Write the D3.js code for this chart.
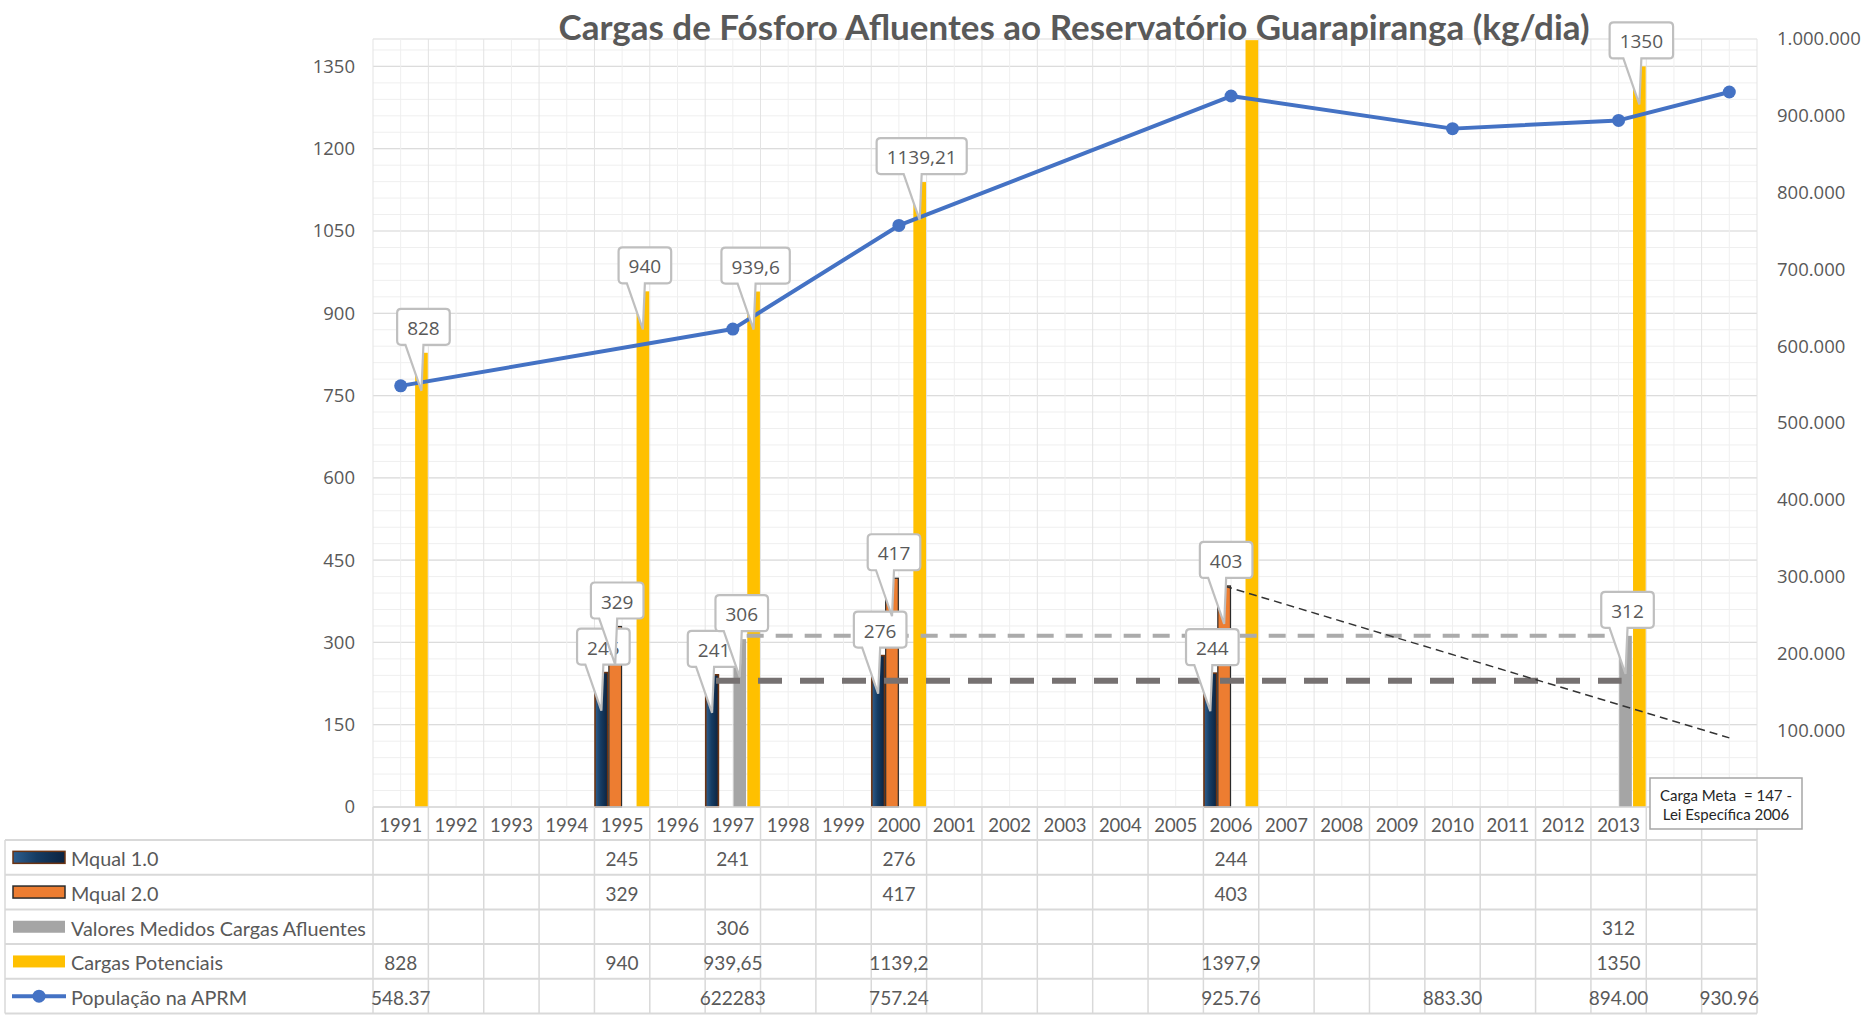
<!DOCTYPE html>
<html>
<head>
<meta charset="utf-8">
<script src="https://cdn.jsdelivr.net/npm/d3@7"></script>
<style>
  body { margin: 0; background: #fff; }
  svg { display: block; }
</style>
</head>
<body>
<svg id="chart" width="1874" height="1016"></svg>
<script>
// ---- data -------------------------------------------------------------
const years = ["1991","1992","1993","1994","1995","1996","1997","1998","1999","2000",
               "2001","2002","2003","2004","2005","2006","2007","2008","2009","2010",
               "2011","2012","2013","",""];

const mqual1     = [null,null,null,null,245,null,241,null,null,276,null,null,null,null,null,244,null,null,null,null,null,null,null,null,null];
const mqual2     = [null,null,null,null,329,null,null,null,null,417,null,null,null,null,null,403,null,null,null,null,null,null,null,null,null];
const medidos    = [null,null,null,null,null,null,306,null,null,null,null,null,null,null,null,null,null,null,null,null,null,null,312,null,null];
const potenciais = [828,null,null,null,940,null,939.65,null,null,1139.21,null,null,null,null,null,1397.9,null,null,null,null,null,null,1350,null,null];
const populacao  = [548370,null,null,null,null,null,622283,null,null,757240,null,null,null,null,null,925760,null,null,null,883300,null,null,894000,null,930960];

// callout texts on the bars
const mqual1Labels     = [null,null,null,null,"245",null,"241",null,null,"276",null,null,null,null,null,"244",null,null,null,null,null,null,null,null,null];
const mqual2Labels     = [null,null,null,null,"329",null,null,null,null,"417",null,null,null,null,null,"403",null,null,null,null,null,null,null,null,null];
const medidosLabels    = [null,null,null,null,null,null,"306",null,null,null,null,null,null,null,null,null,null,null,null,null,null,null,"312",null,null];
const potenciaisLabels = ["828",null,null,null,"940",null,"939,6",null,null,"1139,21",null,null,null,null,null,null,null,null,null,null,null,null,"1350",null,null];

// texts shown in the data table
const mqual1Table     = mqual1.map(v => v == null ? "" : String(v));
const mqual2Table     = mqual2.map(v => v == null ? "" : String(v));
const medidosTable    = medidos.map(v => v == null ? "" : String(v));
const potenciaisTable = ["828","","","","940","","939,65","","","1139,2","","","","","","1397,9","","","","","","","1350","",""];
const populacaoTable  = ["548.37","","","","","","622283","","","757.24","","","","","","925.76","","","","883.30","","","894.00","","930.96"];

const seriesNames = ["Mqual 1.0","Mqual 2.0","Valores Medidos Cargas Afluentes","Cargas Potenciais","População na APRM"];

// axis ticks
const leftTicks  = [0,150,300,450,600,750,900,1050,1200,1350];
const rightTicks = [100000,200000,300000,400000,500000,600000,700000,800000,900000,1000000];

// reference levels (dashed) and the goal trend
const medidoRef = { value: 312, from: "1997", to: "2013" };
const mqualRef  = { value: 230, from: "1997", to: "2013" };
const trendStart = { year: "2006", value: 403 };
const trendEnd   = { index: 24, value: 126 };

const title = "Cargas de Fósforo Afluentes ao Reservatório Guarapiranga (kg/dia)";
const noteLines = ["Carga Meta\u00a0 = 147 -", "Lei Específica 2006"];

// ---- setup ------------------------------------------------------------
const svg = d3.select("#chart");
const plotL = 373, plotR = 1757, plotB = 807, plotT = 39;
const textGray = "#595959";
const axisFont = "'Open Sans', 'DejaVu Sans', sans-serif";
const tableFont = "Lato, 'Open Sans', sans-serif";

const ptLocale = d3.formatLocale({ decimal: ",", thousands: ".", grouping: [3], currency: ["R$", ""] });
const fmtThousands = ptLocale.format(",d");

const x = d3.scaleBand().domain(d3.range(years.length)).range([plotL, plotR]).paddingInner(0).paddingOuter(0);
const sub = d3.scaleBand().domain(d3.range(4)).range([0, x.bandwidth()]).padding(0);
const yL = d3.scaleLinear().domain([0, 1400]).range([plotB, plotT]);
const yR = d3.scaleLinear().domain([0, 1000000]).range([plotB, plotT]);

const defs = svg.append("defs");
const grad = defs.append("linearGradient").attr("id", "mq1Fill").attr("x1", 0).attr("x2", 1).attr("y1", 0).attr("y2", 0);
grad.append("stop").attr("offset", 0).attr("stop-color", "#2f5f8f");
grad.append("stop").attr("offset", 0.45).attr("stop-color", "#163c63");
grad.append("stop").attr("offset", 1).attr("stop-color", "#0b2340");

// ---- gridlines ----------------------------------------------------------
const grid = svg.append("g");
const minorVals = d3.range(0, 1401, 30);
grid.selectAll(".hmin").data(minorVals).join("line")
  .attr("x1", plotL).attr("x2", plotR)
  .attr("y1", d => yL(d)).attr("y2", d => yL(d))
  .attr("stroke", "#efefef").attr("stroke-width", 1);
grid.selectAll(".hmaj").data(leftTicks.concat([1400])).join("line")
  .attr("x1", plotL).attr("x2", plotR)
  .attr("y1", d => yL(d)).attr("y2", d => yL(d))
  .attr("stroke", "#dcdcdc").attr("stroke-width", 1.2);
const halfSteps = d3.range(0, years.length * 2 + 1);
grid.selectAll(".v").data(halfSteps).join("line")
  .attr("x1", d => plotL + d * x.bandwidth() / 2).attr("x2", d => plotL + d * x.bandwidth() / 2)
  .attr("y1", plotT).attr("y2", plotB)
  .attr("stroke", d => d % 2 === 0 ? "#e3e3e3" : "#efefef").attr("stroke-width", 1);

// ---- bars ---------------------------------------------------------------
const barSeries = [mqual1, mqual2, medidos, potenciais];
const barFill   = ["url(#mq1Fill)", "#ed7d31", "#a5a5a5", "#ffc000"];
const barStroke = ["#6b3312", "#2b2b2b", "none", "none"];
const barStrokeW = [1.6, 1.2, 0, 0];
const gBars = svg.append("g");
barSeries.forEach((vals, s) => {
  const pts = vals.map((v, i) => ({ v, i })).filter(d => d.v != null);
  gBars.selectAll(null).data(pts).join("rect")
    .attr("x", d => x(d.i) + sub(s) + 0.6)
    .attr("width", sub.bandwidth() - 1.2)
    .attr("y", d => yL(d.v))
    .attr("height", d => yL(0) - yL(d.v))
    .attr("fill", barFill[s])
    .attr("stroke", barStroke[s])
    .attr("stroke-width", barStrokeW[s]);
});

// ---- dashed reference levels -------------------------------------------
const gRef = svg.append("g");
const iOf = y => years.indexOf(y);
gRef.append("line")
  .attr("x1", x(iOf(medidoRef.from)) + sub(3)).attr("x2", x(iOf(medidoRef.to)) + sub(2))
  .attr("y1", yL(medidoRef.value)).attr("y2", yL(medidoRef.value))
  .attr("stroke", "#ababab").attr("stroke-width", 4).attr("stroke-dasharray", "17 12");
gRef.append("line")
  .attr("x1", x(iOf(mqualRef.from)) + sub(1) - 3).attr("x2", x(iOf(mqualRef.to)) + sub(2) + 3)
  .attr("y1", yL(mqualRef.value)).attr("y2", yL(mqualRef.value))
  .attr("stroke", "#767171").attr("stroke-width", 6).attr("stroke-dasharray", "24 18");

// ---- population line ------------------------------------------------------
const popPts = populacao.map((v, i) => ({ v, i })).filter(d => d.v != null);
const lineGen = d3.line().x(d => x(d.i) + x.bandwidth() / 2).y(d => yR(d.v));
svg.append("path").datum(popPts)
  .attr("d", lineGen).attr("fill", "none")
  .attr("stroke", "#4472c4").attr("stroke-width", 4).attr("stroke-linejoin", "round");
svg.append("g").selectAll("circle").data(popPts).join("circle")
  .attr("cx", d => x(d.i) + x.bandwidth() / 2).attr("cy", d => yR(d.v)).attr("r", 6.5)
  .attr("fill", "#4472c4");

// ---- goal trend ----------------------------------------------------------
svg.append("line")
  .attr("x1", x(iOf(trendStart.year)) + sub(1) + sub.bandwidth() / 2)
  .attr("y1", yL(trendStart.value))
  .attr("x2", x(trendEnd.index) + x.bandwidth() / 2)
  .attr("y2", yL(trendEnd.value))
  .attr("stroke", "#333").attr("stroke-width", 1.5).attr("stroke-dasharray", "8 5");

// ---- callout labels -------------------------------------------------------
const gCall = svg.append("g");
function callout(cx, barTop, text) {
  const g = gCall.append("g");
  const path = g.append("path");
  const t = g.append("text").text(text)
    .attr("font-family", axisFont).attr("font-size", 19).attr("fill", textGray)
    .attr("text-anchor", "middle").attr("dominant-baseline", "central");
  const tw = t.node().getComputedTextLength();
  const w = tw + 20, h = 36, r = 4;
  const bcx = cx + 2;
  const bx = bcx - w / 2, by = barTop - 8 - h;
  const tipX = cx, tipY = barTop + 38;
  const b0 = Math.max(bx + r + 2, tipX - 16), b1 = Math.min(bx + w - r - 2, tipX + 2);
  t.attr("x", bcx).attr("y", by + h / 2 + 1);
  path.attr("d",
    `M${bx + r},${by} H${bx + w - r} Q${bx + w},${by} ${bx + w},${by + r} V${by + h - r} ` +
    `Q${bx + w},${by + h} ${bx + w - r},${by + h} H${b1} L${tipX},${tipY} L${b0},${by + h} ` +
    `H${bx + r} Q${bx},${by + h} ${bx},${by + h - r} V${by + r} Q${bx},${by} ${bx + r},${by} Z`)
    .attr("fill", "#fff").attr("stroke", "#bfbfbf").attr("stroke-width", 2.2);
}
const labelSets = [mqual1Labels, mqual2Labels, medidosLabels, potenciaisLabels];
labelSets.forEach((labels, s) => {
  labels.forEach((lab, i) => {
    if (lab == null) return;
    const v = barSeries[s][i];
    callout(x(i) + sub(s) + sub.bandwidth() / 2, yL(v), lab);
  });
});

// ---- axes -----------------------------------------------------------------
const axL = svg.append("g").attr("transform", `translate(${plotL - 8},0)`)
  .call(d3.axisLeft(yL).tickValues(leftTicks).tickSize(0).tickPadding(10).tickFormat(d3.format("d")));
const axR = svg.append("g").attr("transform", `translate(${plotR + 10},0)`)
  .call(d3.axisRight(yR).tickValues(rightTicks).tickSize(0).tickPadding(10).tickFormat(fmtThousands));
[axL, axR].forEach(a => {
  a.select(".domain").remove();
  a.selectAll("text").attr("font-family", axisFont).attr("font-size", 18.5).attr("fill", textGray);
});

// ---- data table -------------------------------------------------------------
const tbl = svg.append("g");
const tblL = 5, rowTop = 840, rowH = 34.7;
const rows = [mqual1Table, mqual2Table, medidosTable, potenciaisTable, populacaoTable];
const lineCol = "#d9d9d9";

// year labels
tbl.selectAll(".yr").data(years).join("text")
  .attr("x", (d, i) => x(i) + x.bandwidth() / 2).attr("y", (plotB + rowTop) / 2 + 1)
  .attr("text-anchor", "middle").attr("dominant-baseline", "central")
  .attr("font-family", tableFont).attr("font-size", 18.5).attr("fill", textGray)
  .text(d => d);

// horizontal rules
const hRules = d3.range(rows.length + 1).map(k => rowTop + k * rowH);
tbl.append("line").attr("x1", plotL).attr("x2", plotR).attr("y1", plotB).attr("y2", plotB)
  .attr("stroke", lineCol).attr("stroke-width", 1.5);
tbl.selectAll(".hr").data(hRules).join("line")
  .attr("x1", tblL).attr("x2", plotR).attr("y1", d => d).attr("y2", d => d)
  .attr("stroke", lineCol).attr("stroke-width", 2);
// vertical rules
tbl.selectAll(".vr").data(d3.range(years.length + 1)).join("line")
  .attr("x1", d => plotL + d * x.bandwidth()).attr("x2", d => plotL + d * x.bandwidth())
  .attr("y1", plotB).attr("y2", hRules[hRules.length - 1])
  .attr("stroke", lineCol).attr("stroke-width", 1.5);
tbl.append("line").attr("x1", tblL).attr("x2", tblL).attr("y1", rowTop).attr("y2", hRules[hRules.length - 1])
  .attr("stroke", lineCol).attr("stroke-width", 1.5);

// cell values
rows.forEach((row, r) => {
  tbl.selectAll(null).data(row.map((t, i) => ({ t, i })).filter(d => d.t !== "")).join("text")
    .attr("x", d => x(d.i) + x.bandwidth() / 2).attr("y", rowTop + r * rowH + rowH / 2 + 1)
    .attr("text-anchor", "middle").attr("dominant-baseline", "central")
    .attr("font-family", tableFont).attr("font-size", 19).attr("fill", textGray)
    .text(d => d.t);
});

// legend keys + names
seriesNames.forEach((name, r) => {
  const cy = rowTop + r * rowH + rowH / 2;
  if (r < 4) {
    tbl.append("rect").attr("x", 13).attr("y", cy - 6).attr("width", 52).attr("height", 12)
      .attr("fill", barFill[r])
      .attr("stroke", r === 0 ? "#6b3312" : r === 1 ? "#2b2b2b" : "none")
      .attr("stroke-width", r < 2 ? 1.5 : 0);
  } else {
    tbl.append("line").attr("x1", 12).attr("x2", 66).attr("y1", cy).attr("y2", cy)
      .attr("stroke", "#4472c4").attr("stroke-width", 4);
    tbl.append("circle").attr("cx", 39).attr("cy", cy).attr("r", 6.5).attr("fill", "#4472c4");
  }
  tbl.append("text").attr("x", 71).attr("y", cy + 1).attr("dominant-baseline", "central")
    .attr("font-family", tableFont).attr("font-size", 19.8).attr("fill", textGray).text(name);
});

// ---- goal note ----------------------------------------------------------
const note = svg.append("g");
note.append("rect").attr("x", 1650).attr("y", 778).attr("width", 152).attr("height", 51)
  .attr("fill", "#fff").attr("stroke", "#a6a6a6").attr("stroke-width", 1.5);
note.selectAll("text").data(noteLines).join("text")
  .attr("x", 1726).attr("y", (d, i) => 795 + i * 19)
  .attr("text-anchor", "middle").attr("dominant-baseline", "central")
  .attr("font-family", tableFont).attr("font-size", 15).attr("fill", "#262626")
  .text(d => d);

// ---- title ----------------------------------------------------------------
svg.append("text").attr("x", 1074).attr("y", 40)
  .attr("text-anchor", "middle")
  .attr("font-family", tableFont).attr("font-weight", 700).attr("font-size", 34)
  .attr("fill", textGray)
  .attr("textLength", 1031).attr("lengthAdjust", "spacingAndGlyphs")
  .text(title);
</script>
</body>
</html>
